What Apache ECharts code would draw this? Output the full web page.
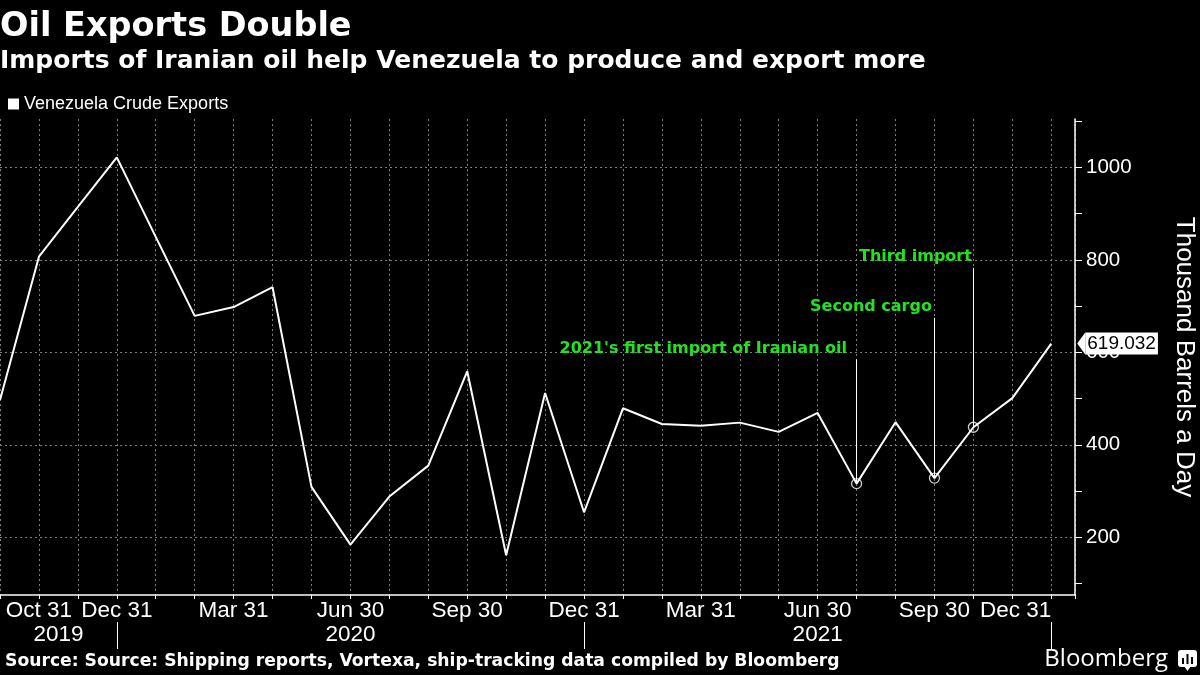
<!DOCTYPE html>
<html>
<head>
<meta charset="utf-8">
<script src="https://cdn.jsdelivr.net/npm/echarts@6/dist/echarts.min.js"></script>
<style>
html,body{margin:0;padding:0;background:#000;}
#c{width:1200px;height:675px;}
</style>
</head>
<body>
<div id="c"></div>
<script>
// ---------- data ----------
const dates = ['2019-09-30','2019-10-31','2019-11-30','2019-12-31','2020-01-31','2020-02-29','2020-03-31','2020-04-30','2020-05-31','2020-06-30','2020-07-31','2020-08-31','2020-09-30','2020-10-31','2020-11-30','2020-12-31','2021-01-31','2021-02-28','2021-03-31','2021-04-30','2021-05-31','2021-06-30','2021-07-31','2021-08-31','2021-09-30','2021-10-31','2021-11-30','2021-12-31'];
const crudeExports = [497,807,915,1022,850,679,698,741,309,184,288,355,559,161,512,254,479,445,441,448,428,469,316,449,328,438,501,619.032];
const seriesName = 'Venezuela Crude Exports';
const tickDates = ['2019-10-31','2019-12-31','2020-03-31','2020-06-30','2020-09-30','2020-12-31','2021-03-31','2021-06-30','2021-09-30','2021-12-31'];
const tickLabels = ['Oct 31','Dec 31','Mar 31','Jun 30','Sep 30','Dec 31','Mar 31','Jun 30','Sep 30','Dec 31'];
const yearLabels = ['2019','2020','2021'];
const yearBounds = ['2019-09-30','2019-12-31','2020-12-31','2021-12-31'];
const yLabelValues = [200,400,600,800,1000];
const yTickValues = [100,200,300,400,500,600,700,800,900,1000,1100];
const annDates = ['2021-07-31','2021-09-30','2021-10-31'];
const annTexts = ["2021's first import of Iranian oil",'Second cargo','Third import'];
const titleText = 'Oil Exports Double';
const subtitleText = 'Imports of Iranian oil help Venezuela to produce and export more';
const sourceText = 'Source: Source: Shipping reports, Vortexa, ship-tracking data compiled by Bloomberg';
const yName = 'Thousand Barrels a Day';

// ---------- layout / style ----------
const annLineTop = [585, 675, 783];     // value where each callout line starts
const annTextDx = [-9, -2, -1];
const X_MAX = 27.61;
const GREEN = '#22e322';
const GRID_LINE = {color:'#7c7c7c', type:[2,3], width:1};
const F_BOLD = '"DejaVu Sans", Verdana, sans-serif';
const F_REG = '"Liberation Sans", Arial, sans-serif';

const idx = d => dates.indexOf(d);
const lineData = crudeExports.map((v,i)=>[i,v]);
const tickIdx = tickDates.map(idx);
const labelOf = {};
tickIdx.forEach((t,k)=>{labelOf[t]=tickLabels[k];});
const boundIdx = yearBounds.map(idx);
const yearPos = yearLabels.map((y,k)=>(boundIdx[k]+boundIdx[k+1])/2);
const yearOf = {};
yearPos.forEach((p,k)=>{yearOf[p]=yearLabels[k];});
const annIdx = annDates.map(idx);
const last = lineData.length-1;

const chart = echarts.init(document.getElementById('c'), null, {renderer:'canvas'});
chart.setOption({
  backgroundColor:'#000',
  animation:false,
  title:[
    {text:titleText, left:0, top:10, padding:0, textStyle:{color:'#fff', fontSize:33.5, fontWeight:'bold', fontFamily:F_BOLD}},
    {text:subtitleText, left:0, top:49, padding:0, textStyle:{color:'#fff', fontSize:25, fontWeight:'bold', fontFamily:F_BOLD}},
    {text:sourceText, left:5, top:653, padding:0, textStyle:{color:'#fff', fontSize:17.2, fontWeight:'bold', fontFamily:F_BOLD}}
  ],
  legend:{
    data:[seriesName], left:3, top:90, icon:'rect', itemWidth:11, itemHeight:11,
    textStyle:{color:'#fff', fontSize:18, fontFamily:F_REG}
  },
  grid:{left:0, right:125, top:119, bottom:80, containLabel:false, outerBoundsMode:'none'},
  xAxis:[
    {
      type:'value', min:0, max:X_MAX, interval:1, position:'bottom',
      axisLine:{show:true, onZero:false, lineStyle:{color:'#fff', width:1.5}},
      axisTick:{show:true, length:4, lineStyle:{color:'#fff'}},
      splitLine:{show:true, lineStyle:GRID_LINE},
      axisLabel:{customValues:tickIdx, formatter:v=>labelOf[v]||'', color:'#fff', fontSize:22.5, fontFamily:F_REG, margin:4, alignMaxLabel:'right'}
    },
    {
      type:'value', min:0, max:X_MAX, position:'bottom', offset:27,
      axisLine:{show:false, onZero:false},
      axisTick:{show:true, customValues:boundIdx.slice(1), length:27, lineStyle:{color:'#fff'}},
      splitLine:{show:false},
      axisLabel:{customValues:yearPos, formatter:v=>yearOf[v]||'', color:'#fff', fontSize:22.5, fontFamily:F_REG, margin:1}
    }
  ],
  yAxis:[
    {
      type:'value', min:75, max:1105, position:'right',
      name:yName, nameLocation:'middle', nameRotate:-90, nameGap:96,
      nameTextStyle:{color:'#fff', fontSize:26, fontFamily:F_REG},
      axisLine:{show:true, onZero:false, lineStyle:{color:'#fff', width:1.5}},
      axisTick:{show:true, customValues:yTickValues, length:7, lineStyle:{color:'#fff'}},
      axisLabel:{customValues:yLabelValues, formatter:v=>String(v), color:'#fff', fontSize:20.5, fontFamily:F_REG, margin:11},
      splitLine:{show:false}
    },
    {
      type:'value', min:75, max:1105, position:'right',
      axisLine:{show:false, onZero:false},
      axisTick:{show:false, customValues:yLabelValues},
      axisLabel:{show:false},
      splitLine:{show:true, lineStyle:GRID_LINE}
    }
  ],
  series:[
    {
      name:seriesName, type:'line', xAxisIndex:0, yAxisIndex:0,
      data:lineData, symbol:'none', showSymbol:false,
      lineStyle:{color:'#fff', width:2}, itemStyle:{color:'#fff'}, z:3,
      endLabel:{show:true, formatter:p=>String(p.value[1]), color:'#000', backgroundColor:'#fff',
        fontSize:19, fontFamily:F_REG, padding:[2,2,1,2], distance:34},
      markPoint:{
        silent:true, animation:false,
        data:[{coord:lineData[last], symbol:'triangle', symbolSize:[22,8], symbolRotate:90, symbolOffset:[30,0],
          itemStyle:{color:'#fff'}, label:{show:false}}]
      }
    },
    {
      name:'callouts', type:'scatter', xAxisIndex:0, yAxisIndex:0, z:4,
      data:annIdx.map(i=>lineData[i]),
      symbol:'circle', symbolSize:10,
      itemStyle:{color:'rgba(0,0,0,0)', borderColor:'#fff', borderWidth:1.3},
      markLine:{
        silent:true, symbol:['none','none'], animation:false,
        lineStyle:{color:'#fff', type:'solid', width:1},
        label:{show:false},
        data:annIdx.map((i,k)=>[{coord:[i, annLineTop[k]]},{coord:lineData[i]}])
      },
      markPoint:{
        silent:true, animation:false, symbol:'circle', symbolSize:1,
        itemStyle:{color:'rgba(0,0,0,0)'},
        label:{show:true, position:[0,-10], align:'right', verticalAlign:'middle', color:GREEN,
          fontSize:16, fontWeight:'bold', fontFamily:F_BOLD},
        data:annIdx.map((i,k)=>({coord:[i, annLineTop[k]], label:{formatter:annTexts[k], offset:[annTextDx[k],0]}}))
      }
    }
  ],
  graphic:[
    {type:'text', right:32, top:647, style:{text:'Bloomberg', fill:'#fff', font:'24px "Open Sans", "Liberation Sans", sans-serif'}},
    {type:'group', right:3, top:650, children:[
      {type:'rect', shape:{x:0,y:0,width:19,height:17,r:3}, style:{fill:'#fff'}},
      {type:'polygon', shape:{points:[[6,16],[13,16],[9.5,21]]}, style:{fill:'#fff'}},
      {type:'rect', shape:{x:4,y:8,width:2,height:6}, style:{fill:'#000'}},
      {type:'rect', shape:{x:8.5,y:4,width:2,height:10}, style:{fill:'#000'}},
      {type:'rect', shape:{x:13,y:7,width:2,height:7}, style:{fill:'#000'}}
    ]}
  ]
});
</script>
</body>
</html>
